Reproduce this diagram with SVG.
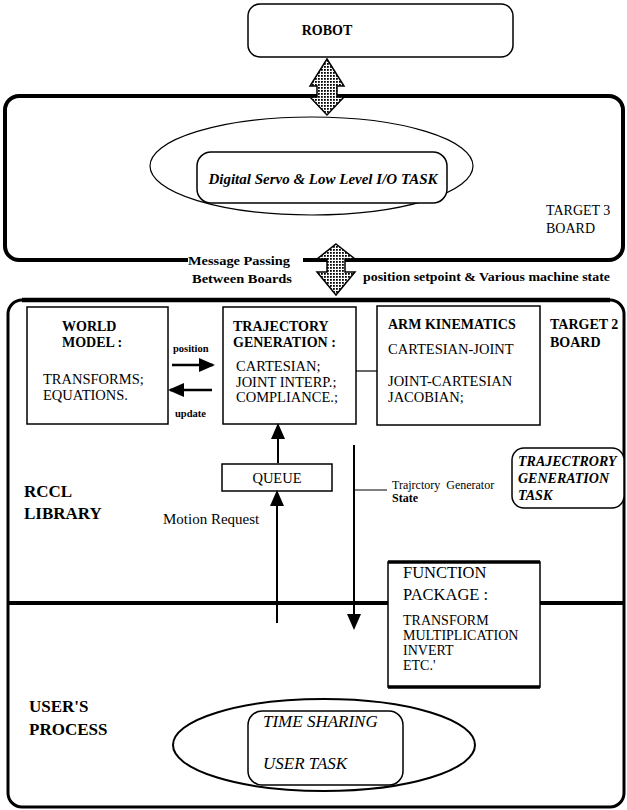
<svg xmlns="http://www.w3.org/2000/svg" width="627" height="810" viewBox="0 0 627 810">
<defs>
<pattern id="stip" width="3" height="3" patternUnits="userSpaceOnUse">
<rect width="3" height="3" fill="#fff"/>
<rect width="1.8" height="1.8" fill="#000"/>
</pattern>
<marker id="ah" markerUnits="userSpaceOnUse" markerWidth="16" markerHeight="14" viewBox="0 0 16 14" refX="14" refY="7" orient="auto">
<path d="M0,0 L16,7 L0,14 Z" fill="#000"/>
</marker>
</defs>
<style>
text{font-family:"Liberation Serif","Times New Roman",serif;fill:#000}
.b{font-weight:bold}
.i{font-style:italic}
.bi{font-weight:bold;font-style:italic}
.box{fill:#fff;stroke:#000;stroke-width:1.5}
.ln{stroke:#000;fill:none}
.big{fill:url(#stip);stroke:#000;stroke-width:1.5}
</style>
<rect width="627" height="810" fill="#fff"/>

<g id="target3-board">
<path class="ln" stroke-width="4" d="M188,260 H19 A14,14 0 0 1 5,246 V110 A14,14 0 0 1 19,96 H609 A14,14 0 0 1 623,110 V246 A14,14 0 0 1 609,260 H303"/>
<text x="546" y="215" font-size="14">TARGET 3</text>
<text x="546" y="233" font-size="14">BOARD</text>
</g>

<g id="target2-board">
<path class="ln" stroke-width="3" d="M22,300 H610 A14,14 0 0 1 624,314 V793 A14,14 0 0 1 610,807 H22 A14,14 0 0 1 8,793 V314 A14,14 0 0 1 22,300 Z"/>
<line class="ln" stroke-width="4.5" x1="22" y1="300" x2="610" y2="300"/>
<line class="ln" stroke-width="4" x1="8" y1="603" x2="388" y2="603"/>
<line class="ln" stroke-width="4" x1="540" y1="603" x2="624" y2="603"/>
<text x="550" y="329" font-size="14" class="b">TARGET 2</text>
<text x="550" y="347" font-size="14" class="b">BOARD</text>
<text x="24" y="497" font-size="17" class="b">RCCL</text>
<text x="24" y="519" font-size="17" class="b">LIBRARY</text>
<text x="29" y="712" font-size="17" class="b">USER'S</text>
<text x="29" y="735" font-size="17" class="b">PROCESS</text>
</g>

<g id="robot">
<rect class="box" x="248" y="4" width="265" height="53" rx="12"/>
<text x="327" y="35" font-size="14" class="b" text-anchor="middle">ROBOT</text>
</g>

<g id="servo-task">
<ellipse class="ln" stroke-width="1.2" cx="311.5" cy="166" rx="161.5" ry="49"/>
<rect class="box" stroke-width="2" x="197" y="152" width="250" height="51" rx="14"/>
<text x="323" y="184" font-size="15" class="bi" text-anchor="middle">Digital Servo &amp; Low Level I/O TASK</text>
</g>

<g id="world-model">
<rect class="box" x="27" y="307" width="141" height="117"/>
<text x="62" y="331" font-size="14" class="b">WORLD</text>
<text x="62" y="347" font-size="14" class="b">MODEL :</text>
<text x="43" y="384" font-size="14.5">TRANSFORMS;</text>
<text x="43" y="400" font-size="14.5">EQUATIONS.</text>
</g>

<g id="trajectory-generation">
<rect class="box" x="223" y="307" width="133" height="117"/>
<text x="233" y="331" font-size="14" class="b">TRAJECTORY</text>
<text x="233" y="347" font-size="14" class="b">GENERATION :</text>
<text x="236" y="371" font-size="14.5">CARTESIAN;</text>
<text x="236" y="387" font-size="14.5">JOINT INTERP.;</text>
<text x="236" y="402" font-size="14.5">COMPLIANCE.;</text>
</g>

<g id="arm-kinematics">
<rect class="box" x="377" y="306" width="163" height="119"/>
<text x="388" y="329" font-size="14" class="b">ARM KINEMATICS</text>
<text x="388" y="354" font-size="14.5">CARTESIAN-JOINT</text>
<text x="388" y="386" font-size="14.5">JOINT-CARTESIAN</text>
<text x="388" y="402" font-size="14.5">JACOBIAN;</text>
</g>

<g id="queue">
<rect class="box" x="222" y="464" width="110" height="27"/>
<text x="277" y="483" font-size="14.5" text-anchor="middle">QUEUE</text>
</g>

<g id="trajectory-generation-task">
<rect class="box" stroke-width="2" x="512" y="448" width="112" height="60" rx="12"/>
<text x="518" y="466" font-size="14" class="bi">TRAJECTRORY</text>
<text x="518" y="483" font-size="14" class="bi">GENERATION</text>
<text x="518" y="500" font-size="14" class="bi">TASK</text>
</g>

<g id="function-package">
<rect class="box" x="388" y="562" width="152" height="125"/>
<line class="ln" stroke-width="3.5" x1="388" y1="562" x2="540" y2="562"/>
<line class="ln" stroke-width="3.5" x1="388" y1="687" x2="540" y2="687"/>
<text x="403" y="578" font-size="16.5">FUNCTION</text>
<text x="403" y="600" font-size="16.5">PACKAGE :</text>
<text x="403" y="625" font-size="14">TRANSFORM</text>
<text x="403" y="640" font-size="14">MULTIPLICATION</text>
<text x="403" y="655" font-size="14">INVERT</text>
<text x="403" y="670" font-size="14">ETC.'</text>
</g>

<g id="user-task">
<ellipse class="ln" stroke-width="2" cx="324" cy="745" rx="151" ry="46"/>
<rect class="box" x="248" y="711" width="155" height="74" rx="14"/>
<text x="263" y="727" font-size="17" class="i">TIME SHARING</text>
<text x="263" y="769" font-size="17" class="i">USER TASK</text>
</g>

<g id="connectors">
<polygon class="big" points="327,59 344,86 337,86 337,97 344,97 327,115 310,97 317,97 317,86 310,86"/>
<polygon class="big" points="336,244 355,259 345,259 345,272 355,272 336,295 317,272 327,272 327,259 317,259"/>
<text x="188" y="265" font-size="13" class="b" textLength="102" lengthAdjust="spacingAndGlyphs">Message Passing</text>
<text x="192" y="283" font-size="13" class="b" textLength="100" lengthAdjust="spacingAndGlyphs">Between Boards</text>
<text x="363" y="281" font-size="13" class="b" textLength="247" lengthAdjust="spacingAndGlyphs">position setpoint  &amp; Various machine state</text>
<line class="ln" stroke-width="2.5" x1="172" y1="365" x2="213" y2="365" marker-end="url(#ah)"/>
<line class="ln" stroke-width="2.5" x1="212" y1="390" x2="170" y2="390" marker-end="url(#ah)"/>
<text x="173" y="352" font-size="10.5" class="b">position</text>
<text x="175" y="417" font-size="10.5" class="b">update</text>
<line class="ln" stroke-width="1.2" x1="356" y1="371" x2="377" y2="371"/>
<line class="ln" stroke-width="2" x1="278" y1="463" x2="278" y2="425" marker-end="url(#ah)"/>
<line class="ln" stroke-width="2" x1="277" y1="623" x2="277" y2="492" marker-end="url(#ah)"/>
<text x="163" y="524" font-size="15">Motion  Request</text>
<line class="ln" stroke-width="2" x1="354" y1="445" x2="354" y2="628" marker-end="url(#ah)"/>
<line class="ln" stroke-width="1.2" x1="354" y1="490" x2="387" y2="490"/>
<text x="392" y="489" font-size="12" word-spacing="3">Trajrctory Generator</text>
<text x="392" y="502" font-size="12" class="b">State</text>
</g>
</svg>
